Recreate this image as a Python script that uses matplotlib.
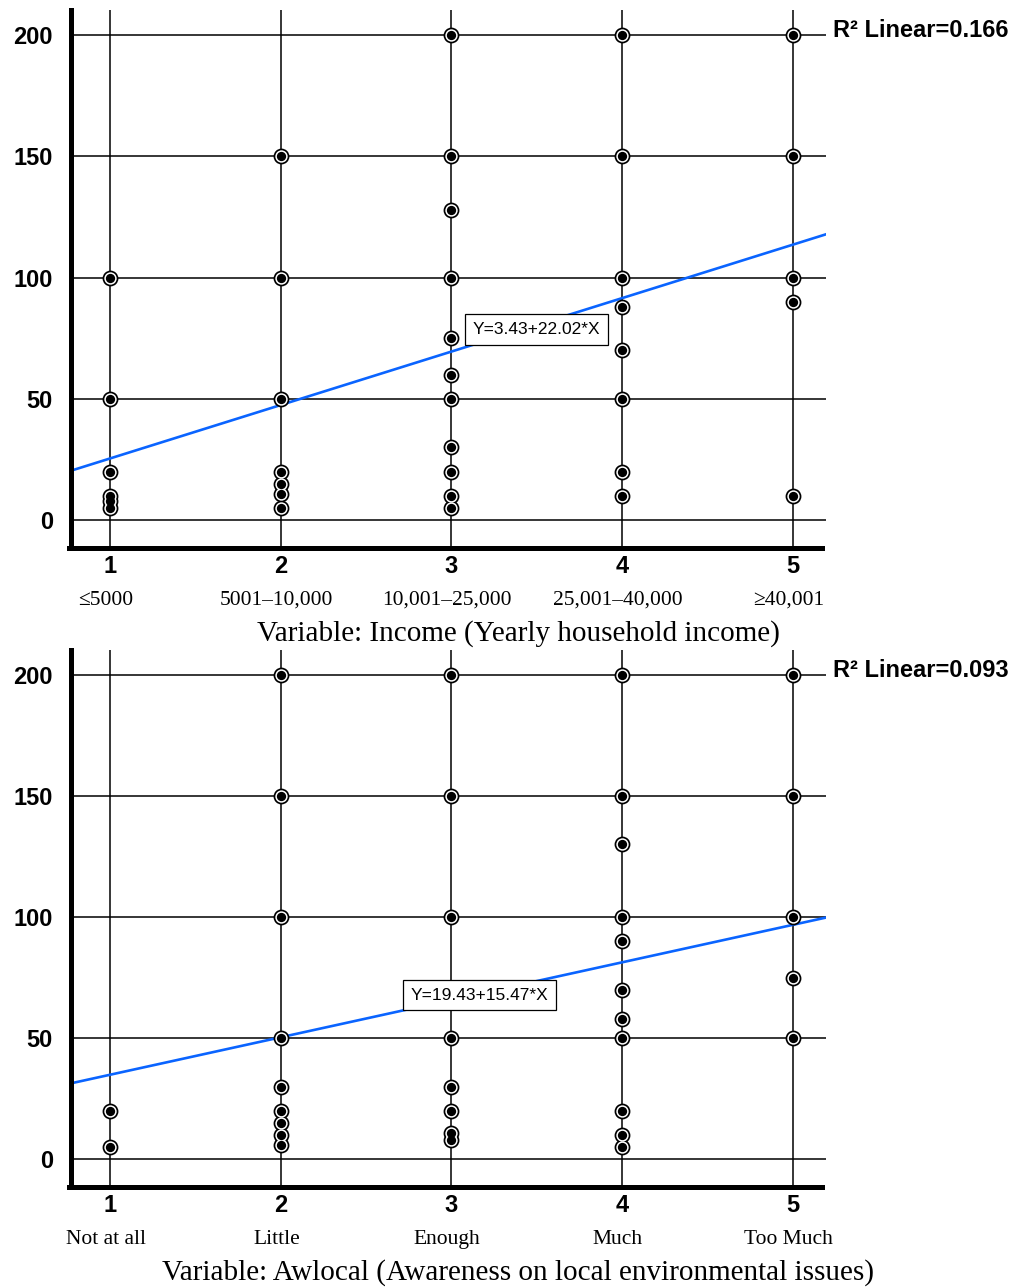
import matplotlib
matplotlib.use("Agg")
import matplotlib.pyplot as plt

plt.rcParams['font.family'] = ['Liberation Sans', 'DejaVu Sans']

# panel 1: income
income_x = [1, 1, 1, 1, 1, 1,
            2, 2, 2, 2, 2, 2, 2,
            3, 3, 3, 3, 3, 3, 3, 3, 3, 3, 3,
            4, 4, 4, 4, 4, 4, 4, 4,
            5, 5, 5, 5, 5]
income_y = [100, 50, 20, 10, 8, 5,
            150, 100, 50, 20, 15, 11, 5,
            200, 150, 128, 100, 75, 60, 50, 30, 20, 10, 5,
            200, 150, 100, 88, 70, 50, 20, 10,
            200, 150, 100, 90, 10]
income_cats = ["≤5000", "5001–10,000", "10,001–25,000", "25,001–40,000", "≥40,001"]
income_fit = (3.43, 22.02)
income_r2 = 0.166
income_title = "Variable: Income (Yearly household income)"

# panel 2: awlocal
aw_x = [1, 1,
        2, 2, 2, 2, 2, 2, 2, 2, 2,
        3, 3, 3, 3, 3, 3, 3, 3,
        4, 4, 4, 4, 4, 4, 4, 4, 4, 4, 4,
        5, 5, 5, 5, 5]
aw_y = [20, 5,
        200, 150, 100, 50, 30, 20, 15, 10, 6,
        200, 150, 100, 50, 30, 20, 11, 8,
        200, 150, 130, 100, 90, 70, 58, 50, 20, 10, 5,
        200, 150, 100, 75, 50]
aw_cats = ["Not at all", "Little", "Enough", "Much", "Too Much"]
aw_fit = (19.43, 15.47)
aw_r2 = 0.093
aw_title = "Variable: Awlocal (Awareness on local environmental issues)"

ticks_x = [1, 2, 3, 4, 5]
ticks_y = [0, 50, 100, 150, 200]
serif = ['Liberation Serif', 'DejaVu Serif']


def draw_panel(ax, xs, ys, fit, r2, cats, title, box_xy):
    a, b = fit
    ax.set_xlim(0.773, 5.195)
    ax.set_ylim(-11.3, 210.2)
    for t in ticks_x:
        ax.axvline(t, color='black', lw=1.1, zorder=1)
    for t in ticks_y:
        ax.axhline(t, color='black', lw=1.1, zorder=1)
    ax.axline((0, a), slope=b, color='#0a64ff', lw=1.9, zorder=2)
    ax.plot(xs, ys, 'o', ms=11.4, color='black', mew=0, zorder=3)
    ax.plot(xs, ys, 'o', ms=8.9, color='white', mew=0, zorder=4)
    ax.plot(xs, ys, 'o', ms=6.7, color='black', mew=0, zorder=5)

    ax.text(box_xy[0], box_xy[1], f"Y={a:.2f}+{b:.2f}*X", fontsize=12.5,
            ha='center', va='center', zorder=6,
            bbox=dict(boxstyle='square,pad=0.45', fc='white', ec='black', lw=0.9))
    ax.annotate(f"R² Linear={r2:.3f}", xy=(1, 200), xycoords=('axes fraction', 'data'),
                xytext=(5, 3), textcoords='offset points', fontsize=17,
                fontweight='bold', ha='left', va='center', annotation_clip=False)

    ax.set_xticks(ticks_x)
    ax.set_yticks(ticks_y)
    ax.tick_params(length=0, labelsize=17)
    ax.tick_params(axis='y', pad=13)
    ax.tick_params(axis='x', pad=5)
    for lab in ax.get_xticklabels() + ax.get_yticklabels():
        lab.set_fontweight('bold')

    for sp in ['top', 'right']:
        ax.spines[sp].set_visible(False)
    ax.spines['left'].set_linewidth(3.6)
    ax.spines['bottom'].set_linewidth(3.6)
    ax.spines['bottom'].set_bounds(0.76, 5.17)
    ax.spines['left'].set_zorder(7)
    ax.spines['bottom'].set_zorder(7)

    for t, c in zip(ticks_x, cats):
        ax.annotate(c, xy=(t, 0), xycoords=('data', 'axes fraction'),
                    xytext=(-3, -38), textcoords='offset points',
                    ha='center', va='center', fontsize=15.5, family=serif)
    ax.annotate(title, xy=(0.592, 0), xycoords='axes fraction',
                xytext=(0, -61.5), textcoords='offset points',
                ha='center', va='center', fontsize=21, family=serif,
                annotation_clip=False)


fig = plt.figure(figsize=(10.15, 12.87), dpi=100)
ax1 = fig.add_axes([0.0700, 0.5744, 0.7438, 0.4178])
ax2 = fig.add_axes([0.0700, 0.0779, 0.7438, 0.4170])

draw_panel(ax1, income_x, income_y, income_fit, income_r2, income_cats,
           income_title, (3.50, 78.5))
draw_panel(ax2, aw_x, aw_y, aw_fit, aw_r2, aw_cats, aw_title, (3.165, 67.8))

fig.savefig("out.png", dpi=100)
